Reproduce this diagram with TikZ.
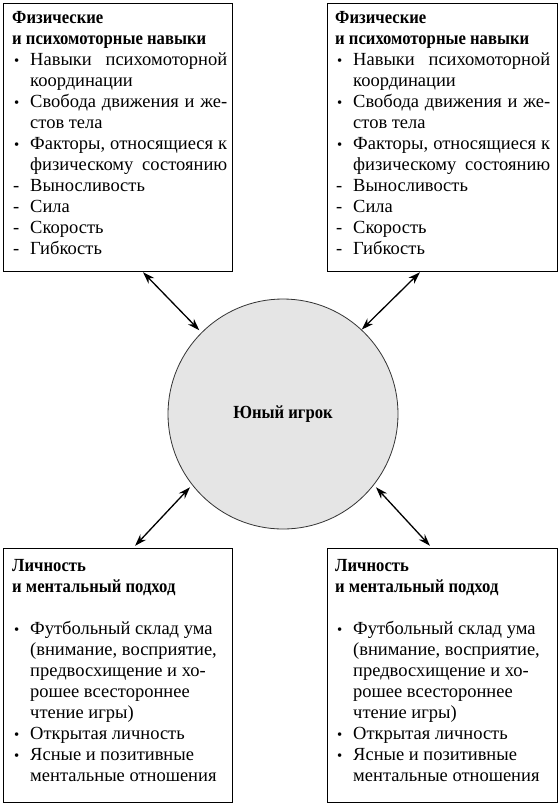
\documentclass[tikz,border=0pt]{standalone}
\usepackage{fontspec}
\setmainfont{Liberation Serif}
\newfontfamily\hdfont{Liberation Serif}[FakeStretch=0.9]
\usetikzlibrary{arrows.meta,calc}
\newcommand\mkb{\makebox[18pt][l]{\hspace{2pt}\scalebox{0.8}{•}}}
\newcommand\mkd{\makebox[18pt][l]{\hspace{1pt}-}}
\newcommand\ind{\hspace*{18pt}}
\newcommand\jl[1]{\makebox[197pt][s]{#1}}
\newcommand\bodyfont{\fontsize{18.5}{21}\selectfont}
\newcommand\hd[1]{{\hdfont\bfseries #1}}
\begin{document}
\begin{tikzpicture}[x=1pt,y=-1pt,
  box/.style={draw,line width=1.2pt,rectangle,inner sep=0pt,anchor=north west,minimum width=229pt},
  txt/.style={anchor=base west,inner sep=0pt},
  arr/.style={{Stealth[length=12pt,width=8pt]}-{Stealth[length=12pt,width=8pt]},line width=1.3pt},
]
\useasboundingbox (0,0) rectangle (560,804);
\node[box,minimum height=268pt] (tl) at (3,3) {};
\node[box,minimum height=268pt,minimum width=230pt] (tr) at (327,3) {};
\node[box,minimum height=254pt] (bl) at (3,548) {};
\node[box,minimum height=254pt,minimum width=230pt] (br) at (327,548) {};
\foreach \nm/\x in {tlt/12,trt/335}{
\node[txt] (\nm) at (\x,23) {\parbox[t]{220pt}{\bodyfont
\hd{Физические}\\
\hd{и психомоторные навыки}\\
\mkb\jl{Навыки психомоторной}\\
\ind координации\\
\mkb\jl{Свобода движения и же-}\\
\ind стов тела\\
\mkb\jl{Факторы, относящиеся к}\\
\ind\jl{физическому состоянию}\\
\mkd Выносливость\\
\mkd Сила\\
\mkd Скорость\\
\mkd Гибкость}};
}
\foreach \nm/\x in {blt/12,brt/335}{
\node[txt] (\nm) at (\x,571) {\parbox[t]{220pt}{\bodyfont
\hd{Личность}\\
\hd{и ментальный подход}\\[21pt]
\mkb Футбольный склад ума\\
\ind (внимание, восприятие,\\
\ind предвосхищение и хо-\\
\ind рошее всестороннее\\
\ind чтение игры)\\
\mkb Открытая личность\\
\mkb Ясные и позитивные\\
\ind ментальные отношения}};
}
\node[circle,draw=black!80,line width=0.8pt,fill=black!10,minimum size=230pt,inner sep=0pt,
  font=\hdfont\bfseries\fontsize{18.5}{21}\selectfont] (c) at (283,414) {Юный игрок};
\draw[arr,shorten >=3pt] ($(tl.south west)+(140,0)$) -- (c.135.7);
\draw[arr] ($(tr.south west)+(93,0)$) -- (c.47.4);
\draw[arr,shorten <=3pt,shorten >=3pt] (c.218.9) -- ($(bl.north west)+(130,0)$);
\draw[arr,shorten <=3pt,shorten >=3pt] (c.322.2) -- ($(br.north west)+(105,0)$);
\end{tikzpicture}
\end{document}
